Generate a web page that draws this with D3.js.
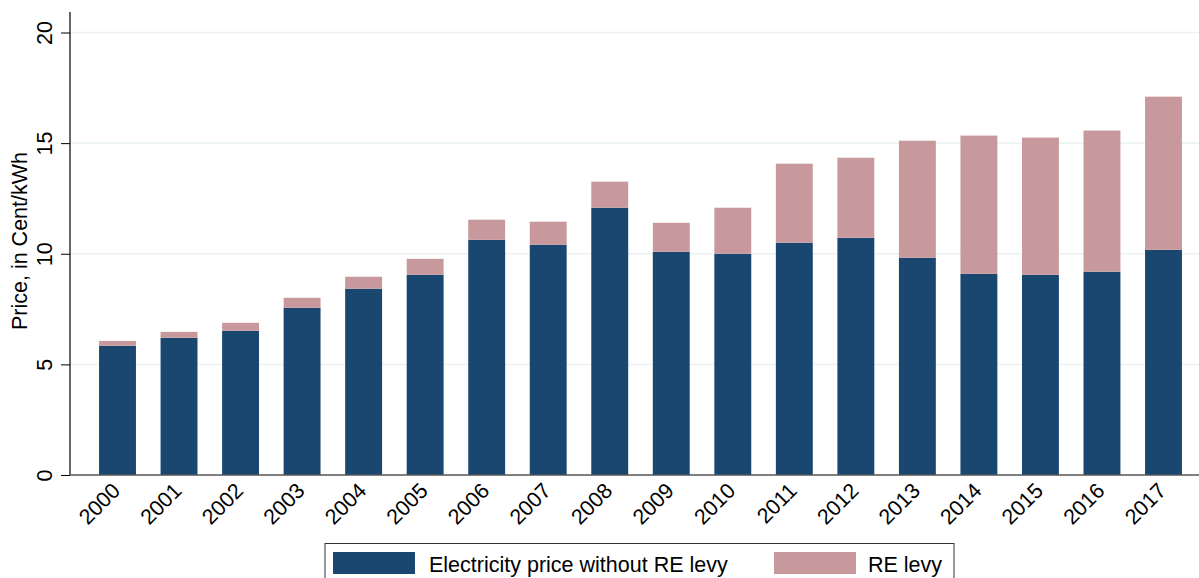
<!DOCTYPE html>
<html>
<head>
<meta charset="utf-8">
<script src="https://cdn.jsdelivr.net/npm/d3@7"></script>
<style>
  body { margin: 0; background: #fff; }
  svg { display: block; font-family: "Liberation Sans", Arial, Helvetica, sans-serif; }
</style>
</head>
<body>
<svg id="chart" width="1199" height="578"></svg>
<script>
// values, cent/kWh
var years = ["2000", "2001", "2002", "2003", "2004", "2005", "2006", "2007", "2008",
             "2009", "2010", "2011", "2012", "2013", "2014", "2015", "2016", "2017"];
var basePrice = [5.84, 6.20, 6.52, 7.56, 8.42, 9.05, 10.63, 10.41, 12.08,
                 10.09, 10.00, 10.50, 10.72, 9.82, 9.09, 9.05, 9.19, 10.18];
var reLevy = [0.22, 0.27, 0.36, 0.45, 0.54, 0.72, 0.91, 1.04, 1.18,
              1.31, 2.08, 3.57, 3.62, 5.29, 6.25, 6.20, 6.38, 6.92];
var yTicks = [0, 5, 10, 15, 20];
var seriesNames = ["Electricity price without RE levy", "RE levy"];
var seriesColors = ["#1a476f", "#c8999c"];

var fs = 21.5;

var svg = d3.select("#chart"),
    width = +svg.attr("width");

var rows = years.map(function (y, i) {
  return { year: y, base: basePrice[i], levy: reLevy[i] };
});

var x = d3.scaleBand()
    .domain(years)
    .range([70, 1211])
    .paddingInner(0.4)
    .paddingOuter(0.472);

var y = d3.scaleLinear()
    .domain([0, 20])
    .range([475, 32.5]);

// grid
svg.append("g")
  .selectAll("line")
  .data(yTicks.filter(function (d) { return d > 0; }))
  .enter().append("line")
    .attr("x1", 70)
    .attr("x2", width)
    .attr("y1", function (d) { return y(d); })
    .attr("y2", function (d) { return y(d); })
    .attr("stroke", "#eaf2f3")
    .attr("stroke-width", 1.5);

// bars
var stack = d3.stack().keys(["base", "levy"]);
svg.append("g")
  .selectAll("g")
  .data(stack(rows))
  .enter().append("g")
    .attr("fill", function (d, i) { return seriesColors[i]; })
  .selectAll("rect")
  .data(function (d) { return d; })
  .enter().append("rect")
    .attr("x", function (d) { return x(d.data.year); })
    .attr("width", x.bandwidth())
    .attr("y", function (d) { return y(d[1]); })
    .attr("height", function (d) { return y(d[0]) - y(d[1]); });

// y axis
var yAxis = svg.append("g")
    .attr("transform", "translate(70,0)")
    .call(d3.axisLeft(y).tickValues(yTicks).tickSize(9).tickFormat(d3.format("d")));
yAxis.select(".domain").remove();
yAxis.selectAll(".tick line").attr("stroke", "#000");
yAxis.selectAll(".tick text")
    .attr("font-size", fs)
    .attr("fill", "#000")
    .attr("text-anchor", "middle")
    .attr("x", null).attr("dy", null)
    .attr("transform", "translate(-18,0) rotate(-90)");

svg.append("line")
    .attr("x1", 70).attr("x2", 70)
    .attr("y1", 12).attr("y2", 475)
    .attr("stroke", "#000").attr("stroke-width", 1.2);

// x axis
var xAxis = svg.append("g")
    .attr("transform", "translate(0,475)")
    .call(d3.axisBottom(x).tickSize(0));
xAxis.select(".domain").remove();
xAxis.selectAll(".tick text")
    .attr("font-size", fs)
    .attr("fill", "#000")
    .attr("text-anchor", "end")
    .attr("y", null).attr("dy", null)
    .attr("transform", "translate(4,17) rotate(-45)");

svg.append("line")
    .attr("x1", 70).attr("x2", width)
    .attr("y1", 475).attr("y2", 475)
    .attr("stroke", "#555").attr("stroke-width", 1.5);

// axis title
svg.append("text")
    .attr("transform", "translate(27,241) rotate(-90)")
    .attr("text-anchor", "middle")
    .attr("font-size", fs)
    .text("Price, in Cent/kWh");

// legend
var legend = svg.append("g");
legend.append("rect")
    .attr("x", 325).attr("y", 543.5)
    .attr("width", 629).attr("height", 50)
    .attr("fill", "none").attr("stroke", "#333").attr("stroke-width", 1);

var legX = [333, 774];
var textX = [429, 868];
seriesNames.forEach(function (name, i) {
  legend.append("rect")
      .attr("x", legX[i]).attr("y", 552)
      .attr("width", 82).attr("height", 22)
      .attr("fill", seriesColors[i]);
  legend.append("text")
      .attr("x", textX[i]).attr("y", 571.5)
      .attr("font-size", fs)
      .text(name);
});
</script>
</body>
</html>
